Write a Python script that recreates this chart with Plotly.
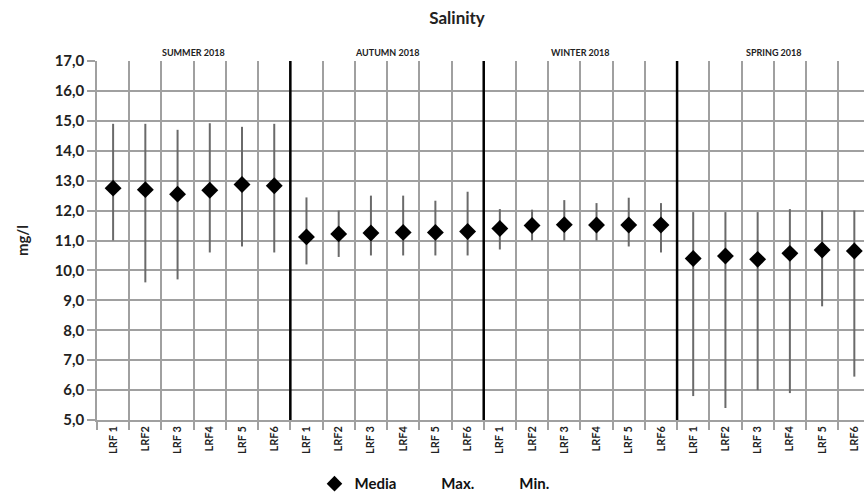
import plotly.graph_objects as go

seasons = ["SUMMER 2018", "AUTUMN 2018", "WINTER 2018", "SPRING 2018"]
sites = ["LRF 1", "LRF2", "LRF 3", "LRF4", "LRF 5", "LRF6"]

media = [12.75, 12.70, 12.55, 12.68, 12.87, 12.83,
         11.12, 11.22, 11.25, 11.27, 11.27, 11.30,
         11.40, 11.50, 11.53, 11.52, 11.52, 11.52,
         10.40, 10.48, 10.37, 10.57, 10.68, 10.65]
maxv = [14.9, 14.9, 14.7, 14.92, 14.8, 14.9,
        12.44, 12.0, 12.5, 12.5, 12.33, 12.63,
        12.05, 12.03, 12.35, 12.25, 12.43, 12.25,
        11.95, 11.95, 11.95, 12.05, 12.0, 12.0]
minv = [11.0, 9.6, 9.7, 10.6, 10.8, 10.6,
        10.2, 10.45, 10.5, 10.5, 10.5, 10.5,
        10.7, 11.0, 11.0, 11.0, 10.8, 10.6,
        5.8, 5.4, 6.0, 5.9, 8.8, 6.45]

n_sites = len(sites)
labels = sites * len(seasons)
x = list(range(len(labels)))

FONT = "Lato"
GRID = "#a0a0a0"

fig = go.Figure()

# high-low lines
lx, ly = [], []
for xi, lo, hi in zip(x, minv, maxv):
    lx += [xi, xi, None]
    ly += [lo, hi, None]
fig.add_trace(go.Scatter(x=lx, y=ly, mode="lines", line=dict(color="#6a6a6a", width=2),
                         showlegend=False, hoverinfo="skip"))

fig.add_trace(go.Scatter(x=x, y=media, mode="markers", name="<b>Media</b>",
                         marker=dict(symbol="diamond", size=13, color="black")))
fig.add_trace(go.Scatter(x=x, y=maxv, mode="markers", name="<b>Max.</b>",
                         marker=dict(size=1, color="rgba(0,0,0,0)")))
fig.add_trace(go.Scatter(x=x, y=minv, mode="markers", name="<b>Min.</b>",
                         marker=dict(size=1, color="rgba(0,0,0,0)")))

shapes = []
for s in range(1, len(seasons)):
    b = s * n_sites - 0.5
    shapes.append(dict(type="line", xref="x", yref="y", x0=b, x1=b, y0=5, y1=17,
                       line=dict(color="black", width=2.5)))

annotations = []
for s, name in enumerate(seasons):
    annotations.append(dict(x=s * n_sites + (n_sites - 1) / 2, y=1.0, xref="x", yref="paper",
                            text="<b>" + name + "</b>", showarrow=False, yanchor="bottom",
                            yshift=1, font=dict(family=FONT, size=9, color="#222")))

fig.update_layout(
    width=864, height=494,
    margin=dict(l=97, r=0, t=61, b=74, autoexpand=False),
    paper_bgcolor="white", plot_bgcolor="white",
    title=dict(text="<b>Salinity</b>", x=0.529, xanchor="center", y=0.963, yanchor="middle",
               font=dict(family=FONT, size=17, color="#222")),
    showlegend=True,
    legend=dict(orientation="h", x=0.44, xanchor="center", y=-0.132, yanchor="top",
                font=dict(family=FONT, size=15, color="#111"), itemwidth=30,
                itemsizing="constant", traceorder="normal"),
    shapes=shapes, annotations=annotations,
)

fig.update_xaxes(range=[-0.5, 23.3], tickmode="array", tickvals=x, ticktext=["<b>" + t + "</b>" for t in labels],
                 tickangle=-90, tickfont=dict(family=FONT, size=11, color="#222"),
                 showgrid=False, ticks="", zeroline=False, automargin=False,
                 showline=True, linecolor=GRID, linewidth=1.5,
                 minor=dict(tickmode="array", tickvals=[i - 0.5 for i in range(len(labels) + 1)],
                            showgrid=True, gridcolor=GRID, gridwidth=1.5,
                            ticks="outside", ticklen=8, tickcolor=GRID, tickwidth=1.5))
fig.update_yaxes(range=[5, 17], tickmode="array", tickvals=list(range(5, 18)),
                 ticktext=["<b>%d,0</b>" % v for v in range(5, 18)],
                 tickfont=dict(family=FONT, size=15, color="#222"),
                 showgrid=True, gridcolor=GRID, gridwidth=1.5, zeroline=False, automargin=False,
                 ticks="outside", ticklen=8, tickcolor=GRID, tickwidth=1.5,
                 showline=True, linecolor=GRID, linewidth=1.5,
                 title=dict(text="<b>mg/l</b>", font=dict(family=FONT, size=15, color="#222"), standoff=22))

fig.write_html("out.html", config={"displayModeBar": False},
               post_script="document.body.style.margin='0';document.body.style.overflow='hidden';")
